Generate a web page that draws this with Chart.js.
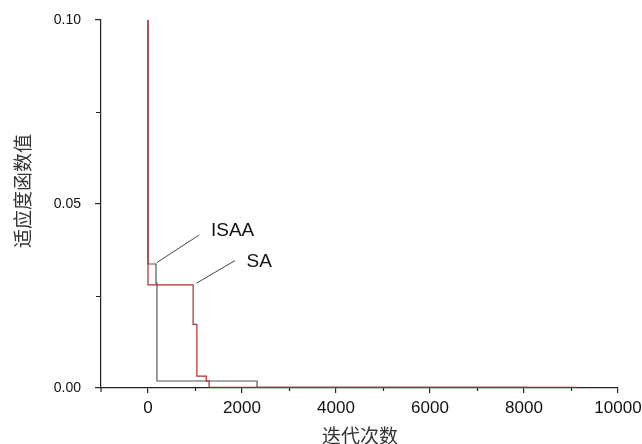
<!DOCTYPE html>
<html>
<head>
<meta charset="utf-8">
<script src="https://cdn.jsdelivr.net/npm/chart.js@4/dist/chart.umd.min.js"></script>
<style>
  html, body { margin: 0; padding: 0; background: #ffffff; }
  #wrap { width: 642px; height: 444px; position: relative; }
</style>
</head>
<body>
<div id="wrap"><canvas id="c" width="642" height="444"></canvas></div>
<script>
// ---- data ----
const saX   = [0,    0,     960,    1040,   1240,   1300,   9130];
const saY   = [0.10, 0.028, 0.0173, 0.0032, 0.0019, 0.0002, 0.0002];
const isaaX = [0,    0,      170,    190,    2320,   8070];
const isaaY = [0.10, 0.0337, 0.0285, 0.0019, 0.0002, 0.0002];

const xTicks = [0, 2000, 4000, 6000, 8000, 10000];
const xMinorTicks = [1000, 3000, 5000, 7000, 9000];
const yTicks = [0.00, 0.05, 0.10];
const yMinorTicks = [0.025, 0.075];

const xTitle = '迭代次数';
const yTitle = '适应度函数值';
const labelNames = ['ISAA', 'SA'];
// annotation leader lines (data coordinates) and label anchors
const isaaLeader = [[191, 0.0341], [1091, 0.0416]];
const saLeader   = [[1034, 0.0285], [1849, 0.0346]];
const isaaLabelAt = [1340, 0.0427];
const saLabelAt   = [2098, 0.0343];

const toPts = (xs, ys) => xs.map((x, i) => ({ x: x, y: ys[i] }));

const extras = {
  id: 'extras',
  afterDraw(chart) {
    const ctx = chart.ctx;
    const xs = chart.scales.x, ys = chart.scales.y;
    const area = chart.chartArea;
    ctx.save();
    ctx.strokeStyle = '#222';
    ctx.lineWidth = 1.2;
    // minor ticks
    ctx.beginPath();
    xMinorTicks.forEach(v => {
      const px = Math.round(xs.getPixelForValue(v)) + 0.5;
      ctx.moveTo(px, area.bottom);
      ctx.lineTo(px, area.bottom + 3);
    });
    yMinorTicks.forEach(v => {
      const py = Math.round(ys.getPixelForValue(v)) + 0.5;
      ctx.moveTo(area.left, py);
      ctx.lineTo(area.left - 5, py);
    });
    // small extension of the y axis below the x axis
    ctx.moveTo(area.left, area.bottom);
    ctx.lineTo(area.left, area.bottom + 4);
    ctx.stroke();

    // leader lines
    ctx.strokeStyle = '#444';
    ctx.lineWidth = 1;
    ctx.beginPath();
    [isaaLeader, saLeader].forEach(l => {
      ctx.moveTo(xs.getPixelForValue(l[0][0]), ys.getPixelForValue(l[0][1]));
      ctx.lineTo(xs.getPixelForValue(l[1][0]), ys.getPixelForValue(l[1][1]));
    });
    ctx.stroke();

    // labels
    ctx.fillStyle = '#111';
    ctx.font = '19px "Liberation Sans", Arial, sans-serif';
    ctx.textAlign = 'left';
    ctx.textBaseline = 'middle';
    ctx.fillText(labelNames[0], xs.getPixelForValue(isaaLabelAt[0]), ys.getPixelForValue(isaaLabelAt[1]));
    ctx.fillText(labelNames[1], xs.getPixelForValue(saLabelAt[0]), ys.getPixelForValue(saLabelAt[1]));

    // axis titles
    ctx.fillStyle = '#333';
    ctx.font = '19px "Noto Sans CJK SC", sans-serif';
    ctx.textAlign = 'center';
    ctx.textBaseline = 'middle';
    ctx.fillText(xTitle, 360, 436);
    ctx.save();
    ctx.translate(23, 191);
    ctx.rotate(-Math.PI / 2);
    ctx.fillText(yTitle, 0, 0);
    ctx.restore();
    ctx.restore();
  }
};

new Chart(document.getElementById('c'), {
  type: 'line',
  data: {
    datasets: [
      { label: 'SA', data: toPts(saX, saY), borderColor: '#b3282d', borderWidth: 1.2,
        pointRadius: 0, stepped: true, fill: false },
      { label: 'ISAA', data: toPts(isaaX, isaaY), borderColor: '#555555', borderWidth: 1.2,
        pointRadius: 0, stepped: true, fill: false }
    ]
  },
  options: {
    responsive: false,
    animation: false,
    devicePixelRatio: 1,
    layout: { padding: { top: 20, right: 24, left: 0, bottom: 0 } },
    plugins: { legend: { display: false }, tooltip: { enabled: false } },
    scales: {
      x: {
        type: 'linear', min: -1000, max: 10000,
        afterBuildTicks: s => { s.ticks = xTicks.map(v => ({ value: v })); },
        afterFit: s => { s.height = 56; s.paddingLeft = 0; s.paddingRight = 0; },
        grid: { display: true, drawOnChartArea: false, drawTicks: true, tickLength: 5, color: '#222', lineWidth: 1.2 },
        border: { display: true, color: '#222', width: 1.2 },
        ticks: { color: '#111', padding: 5, maxRotation: 0, autoSkip: false,
          font: { family: '"Liberation Sans", Arial, sans-serif', size: 17 },
          callback: v => String(v) }
      },
      y: {
        type: 'linear', min: 0, max: 0.1,
        afterBuildTicks: s => { s.ticks = yTicks.map(v => ({ value: v })); },
        afterFit: s => { s.width = 101; s.paddingTop = 0; s.paddingBottom = 0; },
        grid: { display: true, drawOnChartArea: false, drawTicks: true, tickLength: 6, color: '#222', lineWidth: 1.2 },
        border: { display: true, color: '#222', width: 1.2 },
        ticks: { color: '#111', padding: 14, autoSkip: false,
          font: { family: '"Liberation Sans", Arial, sans-serif', size: 14 },
          callback: v => Number(v).toFixed(2) }
      }
    }
  },
  plugins: [extras]
});
</script>
</body>
</html>
